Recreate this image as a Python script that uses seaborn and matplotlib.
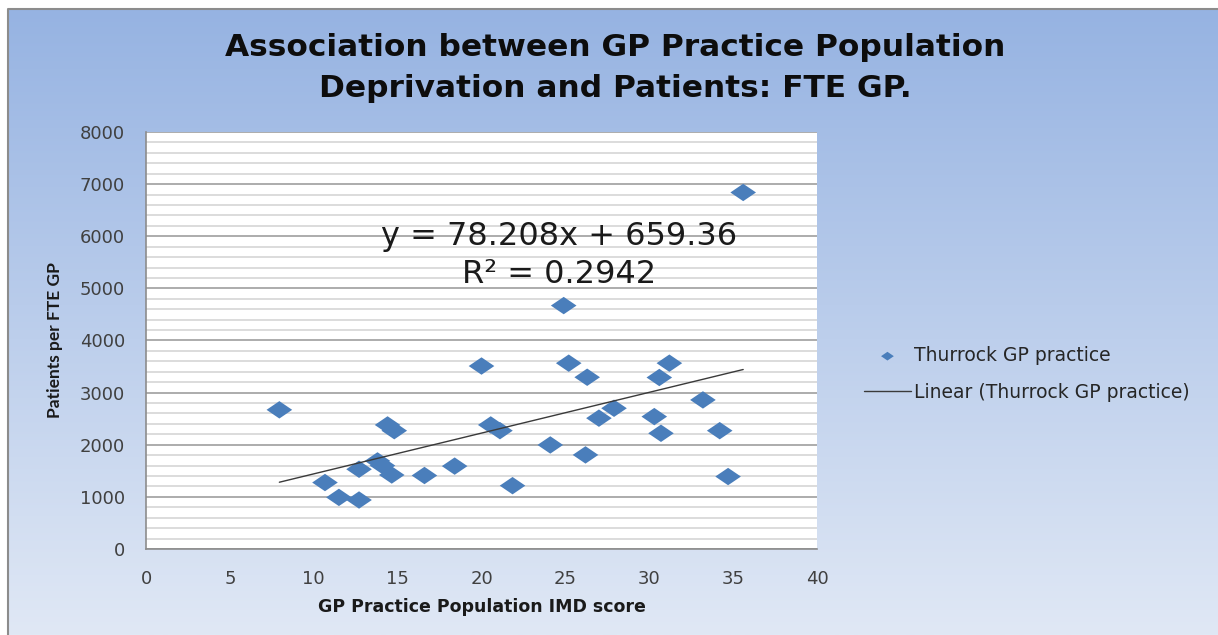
import numpy as np
import pandas as pd
import matplotlib
matplotlib.use("Agg")
import matplotlib.pyplot as plt
from matplotlib.ticker import MultipleLocator
from matplotlib.path import Path
import seaborn as sns

# ---- data ----
imd_score = [7.95, 10.67, 11.5, 12.7, 12.7, 13.8, 14.1, 14.4, 14.8, 14.65, 16.6, 18.4, 20.0,
             20.55, 21.1, 21.85, 24.1, 24.9, 25.2, 26.2, 26.3, 27.0, 27.9, 30.3, 30.6,
             30.7, 31.2, 33.2, 34.2, 34.7, 35.6]
patients_per_fte = [2670, 1275, 990, 940, 1530, 1690, 1600, 2380, 2270, 1420, 1410, 1590, 3510,
                    2380, 2270, 1215, 1996, 4670, 3565, 1805, 3295, 2510, 2700, 2540, 3290,
                    2220, 3565, 2860, 2270, 1390, 6840]
trend_slope = 78.208
trend_intercept = 659.36
r_squared = 0.2942
series_label = "Thurrock GP practice"
trend_label = "Linear (Thurrock GP practice)"
x_ticks = [0, 5, 10, 15, 20, 25, 30, 35, 40]
y_ticks = [0, 1000, 2000, 3000, 4000, 5000, 6000, 7000, 8000]

df = pd.DataFrame({"imd": imd_score, "pp": patients_per_fte})
x_line = [min(imd_score), max(imd_score)]
trend_df = pd.DataFrame({"imd": x_line,
                         "pp": [trend_slope * v + trend_intercept for v in x_line]})

sns.set_theme(style="white")
plt.rcParams["font.family"] = ["DejaVu Sans"]

W, H = 1218, 635
fig = plt.figure(figsize=(W / 100, H / 100), dpi=100)
fig.patch.set_facecolor("white")

# background gradient panel
bg = fig.add_axes([0, 0, 1, 1], zorder=-5)
bg.set_xlim(0, W)
bg.set_ylim(H, 0)
bg.axis("off")
grad = np.linspace(0, 1, 256).reshape(-1, 1)
top = np.array([0x96, 0xb3, 0xe2]) / 255
bot = np.array([0xe0, 0xe8, 0xf5]) / 255
img = top[None, None, :] * (1 - grad[:, :, None]) + bot[None, None, :] * grad[:, :, None]
bg.imshow(img, extent=[8, W, H, 9], aspect="auto")
bg.plot([8, 8, W], [H, 9, 9], color="#8c8c8c", lw=1.5)

ax = fig.add_axes([146 / W, 1 - 549 / H, (817 - 146) / W, (549 - 132) / H])
ax.set_facecolor("white")

# diamond marker (wider than tall)
diamond = Path([(-1, 0), (0, 0.68), (1, 0), (0, -0.68), (-1, 0)],
               [Path.MOVETO, Path.LINETO, Path.LINETO, Path.LINETO, Path.CLOSEPOLY])

sns.scatterplot(data=df, x="imd", y="pp", ax=ax, marker=diamond, s=340,
                color="#4a7ebb", edgecolor="none", label=series_label, zorder=3)
sns.lineplot(data=trend_df, x="imd", y="pp", ax=ax, color="#3a3a3a", lw=1.0,
             label=trend_label, zorder=4)

ax.set_xlim(0, 40)
ax.set_ylim(0, 8000)
ax.set_xticks(x_ticks)
ax.set_yticks(y_ticks)
ax.yaxis.set_minor_locator(MultipleLocator(200))
ax.grid(False)
ax.grid(axis="y", which="minor", color="#d9d9d9", lw=1.3, zorder=0)
ax.grid(axis="y", which="major", color="#a6a6a6", lw=1.3, zorder=0)
ax.set_axisbelow(True)
for s in ["top", "right"]:
    ax.spines[s].set_visible(False)
for s in ["left", "bottom"]:
    ax.spines[s].set_color("#8c8c8c")
    ax.spines[s].set_linewidth(1.2)
ax.tick_params(axis="both", which="major", direction="out", length=5, width=1,
               color="#8c8c8c", labelsize=13, labelcolor="#404040", pad=6)
ax.tick_params(axis="y", which="minor", length=0)
ax.tick_params(axis="y", which="major", length=7, pad=8)
ax.tick_params(axis="x", which="major", pad=10)

ax.set_xlabel("GP Practice Population IMD score", fontsize=12.5, fontweight="bold",
              color="#1a1a1a", labelpad=7)
ax.set_ylabel("Patients per FTE GP", fontsize=12.5, fontweight="bold",
              color="#1a1a1a", labelpad=12, family=["Lato", "DejaVu Sans"])

ax.text(24.6, 5630, f"y = {trend_slope}x + {trend_intercept}\nR² = {r_squared}",
        ha="center", va="center", fontsize=23, color="#1a1a1a", linespacing=1.27)

fig.text(615 / W, 1 - 68 / H,
         "Association between GP Practice Population\nDeprivation and Patients: FTE GP.",
         ha="center", va="center", fontsize=22.5, fontweight="bold", color="#0d0d0d",
         linespacing=1.55)

leg = ax.legend(loc="center left", bbox_to_anchor=(864 / W, 1 - 374 / H),
                bbox_transform=fig.transFigure, frameon=False, fontsize=13.5,
                handlelength=2.5, handletextpad=0.15, labelspacing=0.95,
                markerscale=0.5, borderaxespad=0, borderpad=0)
for t in leg.get_texts():
    t.set_color("#262626")

fig.savefig("out.png", dpi=100)
